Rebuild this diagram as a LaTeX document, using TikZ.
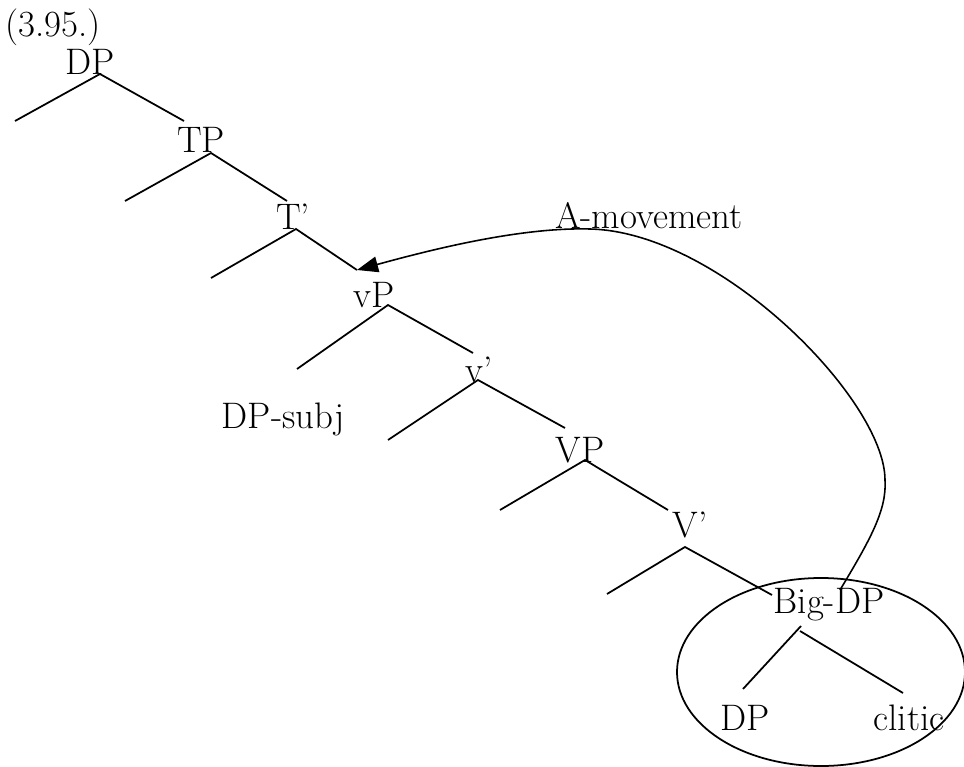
\documentclass[tikz,border=0pt]{standalone}
\usepackage{fontspec}
\usepackage{tikz}
\usetikzlibrary{arrows.meta,calc}

\begin{document}
\begin{tikzpicture}[x=0.02cm,y=-0.02cm,font=\fontsize{21}{25}\selectfont,
  cat/.style={anchor=base,inner sep=0pt},
  branch/.style={line width=1pt},
  movearrow/.style={line width=0.9pt,-{Triangle[length=12pt,width=9pt]}}]
\useasboundingbox (0,0) rectangle (964,767);
\node[cat] (example) at (53,37) {(3.95.)};
\node[cat] (dp) at (90,75) {DP};
\node[cat] (tp) at (201,153) {TP};
\node[cat] (tbar) at (293,230) {T'};
\node[cat] (vp) at (374,307) {vP};
\node[cat] (vbar) at (479,382) {v'};
\node[cat] (subj) at (283,428) {DP-subj};
\node[cat] (bigvp) at (580,462) {VP};
\node[cat] (bigvbar) at (690,537) {V'};
\node[cat] (bigdp) at (829,613) {Big-DP};
\node[cat] (double) at (745,730) {DP};
\node[cat] (clitic) at (909,730) {clitic};
\node[cat] (amove) at (649,228) {A-movement};
\foreach \name/\ax/\ay/\lx/\ly/\rx/\ry in {
    dp/100/74/15/121/184/121,
    tp/211/153/125/201/287/201,
    tbar/296/229/211/278/357/270,
    vp/388/305/297/369/473/353,
    vbar/478/380/388/440/565/428,
    bigvp/585/460/500/510/668/510,
    bigvbar/685/547/607/594/772/595} {
  \coordinate (\name-top) at (\ax,\ay);
  \coordinate (\name-l) at (\lx,\ly);
  \coordinate (\name-r) at (\rx,\ry);
  \draw[branch] (\name-l) -- (\name-top) -- (\name-r);
}
% the big DP and its two daughters
\coordinate (bigdp-l) at (801,626);
\coordinate (bigdp-r) at (800,631);
\draw[branch] (bigdp-l) -- (743,689) coordinate (double-top);
\draw[branch] (bigdp-r) -- (903,693) coordinate (clitic-top);
\draw[branch] (821,672) ellipse [x radius=144, y radius=94];
% movement arrow back to the vP edge
\coordinate (launch) at (840,590);
\draw[movearrow] (launch) .. controls (870,540) and (887,510) .. (885,480)
  .. controls (885,400) and (720,232) .. (590,229)
  .. controls (520,227) and (430,250) .. (tbar-r);
\end{tikzpicture}
\end{document}
